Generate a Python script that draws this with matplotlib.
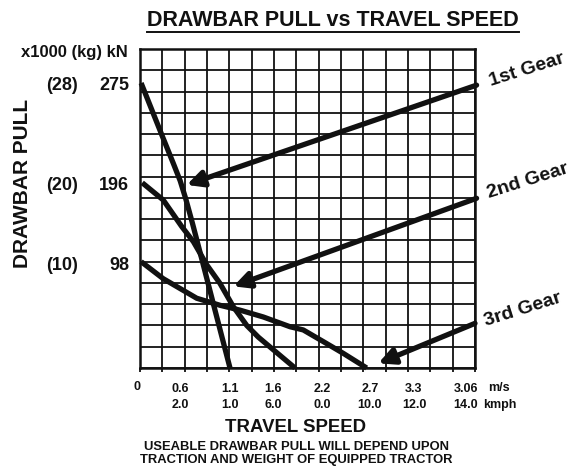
import matplotlib
matplotlib.use("Agg")
import matplotlib.pyplot as plt
import matplotlib.transforms as mtrans
from matplotlib.lines import Line2D

plt.rcParams['font.family'] = ['Liberation Sans', 'DejaVu Sans']
plt.rcParams['font.weight'] = 'bold'

# ---- data (grid units: 15 columns x 15 rows) ----
gear1_x = [0.05, 1.0, 1.5, 1.8, 2.05, 2.35, 2.76, 3.4, 4.03]
gear1_y = [13.4, 10.9, 9.6, 8.8, 7.95, 6.8, 5.15, 2.55, 0.0]
gear2_x = [0.1, 1.04, 1.87, 2.39, 2.99, 3.58, 4.18, 4.78, 5.3, 5.82, 6.94]
gear2_y = [8.71, 7.9, 6.65, 5.94, 4.85, 3.98, 2.88, 2.0, 1.45, 0.99, 0.0]
gear3_x = [0.05, 1.04, 2.54, 3.58, 4.48, 5.52, 6.72, 7.31, 8.21, 9.1, 10.15]
gear3_y = [5.0, 4.2, 3.28, 2.95, 2.72, 2.4, 1.94, 1.79, 1.24, 0.69, 0.0]

gear_labels = ["1st Gear", "2nd Gear", "3rd Gear"]
arrow_tails = [(15.07, 13.3), (15.07, 7.98), (15.0, 2.1)]
arrow_tips = [(2.09, 8.61), (4.18, 3.84), (10.67, 0.22)]

ms_labels = ["0.6", "1.1", "1.6", "2.2", "2.7", "3.3", "3.06"]
kmph_labels = ["2.0", "1.0", "6.0", "0.0", "10.0", "12.0", "14.0"]
xlabel_px = [180, 230, 273, 322, 370, 414, 466]

kn_labels = ["275", "196", "98"]
ton_labels = ["(28)", "(20)", "(10)"]
ylabel_pos = [13.3, 8.6, 4.8]

W, H = 581, 470
C = '#111111'
fig = plt.figure(figsize=(W / 100, H / 100), dpi=100)
L, R, T, B = 140, 475, 49, 368
ax = fig.add_axes([L / W, 1 - B / H, (R - L) / W, (B - T) / H])
ax.set_xlim(0, 15)
ax.set_ylim(0, 15)
ax.set_xticks(range(16))
ax.set_yticks(range(16))
ax.grid(True, color=C, lw=1.3)
ax.tick_params(axis='x', direction='out', length=3, width=1.3, color=C, labelbottom=False)
ax.tick_params(axis='y', length=0, labelleft=False)
for s in ax.spines.values():
    s.set_linewidth(1.8)
    s.set_color(C)
ax.set_axisbelow(True)

lw = 3.8
for xs, ys in [(gear1_x, gear1_y), (gear2_x, gear2_y), (gear3_x, gear3_y)]:
    ax.plot(xs, ys, color=C, lw=lw, clip_on=False, solid_capstyle='butt',
            solid_joinstyle='round', zorder=3)

for tail, tip in zip(arrow_tails, arrow_tips):
    ax.annotate("", xy=tip, xytext=tail,
                arrowprops=dict(arrowstyle='-|>', lw=lw, color=C,
                                mutation_scale=24, shrinkA=0, shrinkB=0),
                annotation_clip=False, zorder=4)

label_xy = [(527, 70), (528, 181), (523, 310)]
for lab, (px, py) in zip(gear_labels, label_xy):
    fig.text(px / W, 1 - py / H, lab, ha='center', va='center', rotation=17.5,
             rotation_mode='anchor', fontsize=14, fontweight='bold', color=C)

# x labels
tk = 9
for lab1, lab2, xp in zip(ms_labels, kmph_labels, xlabel_px):
    fig.text(xp / W, 1 - 389 / H, lab1, ha='center', va='center', fontsize=tk, color=C)
    fig.text(xp / W, 1 - 405 / H, lab2, ha='center', va='center', fontsize=tk, color=C)
fig.text(137 / W, 1 - 387 / H, "0", ha='center', va='center', fontsize=tk, color=C)
fig.text(488 / W, 1 - 388 / H, "m/s", ha='left', va='center', fontsize=tk, color=C)
fig.text(483 / W, 1 - 405 / H, "kmph", ha='left', va='center', fontsize=tk, color=C)

# y labels
blend = mtrans.blended_transform_factory(fig.transFigure, ax.transData)
for kn, tn, yp in zip(kn_labels, ton_labels, ylabel_pos):
    ax.text(129 / W, yp, kn, ha='right', va='center', fontsize=13, color=C, transform=blend)
    ax.text(78 / W, yp, tn, ha='right', va='center', fontsize=13, color=C, transform=blend)
fig.text(128 / W, 1 - 53 / H, "x1000 (kg) kN", ha='right', va='center', fontsize=12, color=C)
fig.text(23 / W, 1 - 183 / H, "DRAWBAR PULL", ha='center', va='center', rotation=90,
         fontsize=15, color=C)

fig.text(296 / W, 1 - 427 / H, "TRAVEL SPEED", ha='center', va='center', fontsize=13.4, color=C)
fig.text(296 / W, 1 - 447 / H, "USEABLE DRAWBAR PULL WILL DEPEND UPON", ha='center', va='center',
         fontsize=9.4, color=C)
fig.text(296 / W, 1 - 460 / H, "TRACTION AND WEIGHT OF EQUIPPED TRACTOR", ha='center', va='center',
         fontsize=9.4, color=C)

title = fig.text(333 / W, 1 - 20 / H, "DRAWBAR PULL vs TRAVEL SPEED", ha='center', va='center',
                 fontsize=15.5, color=C)
fig.canvas.draw()
bb = title.get_window_extent().transformed(fig.transFigure.inverted())
uy = 1 - 31.5 / H
fig.add_artist(Line2D([bb.x0, bb.x1], [uy, uy], transform=fig.transFigure, color=C, lw=1.4))

fig.savefig("out.png", dpi=100)
